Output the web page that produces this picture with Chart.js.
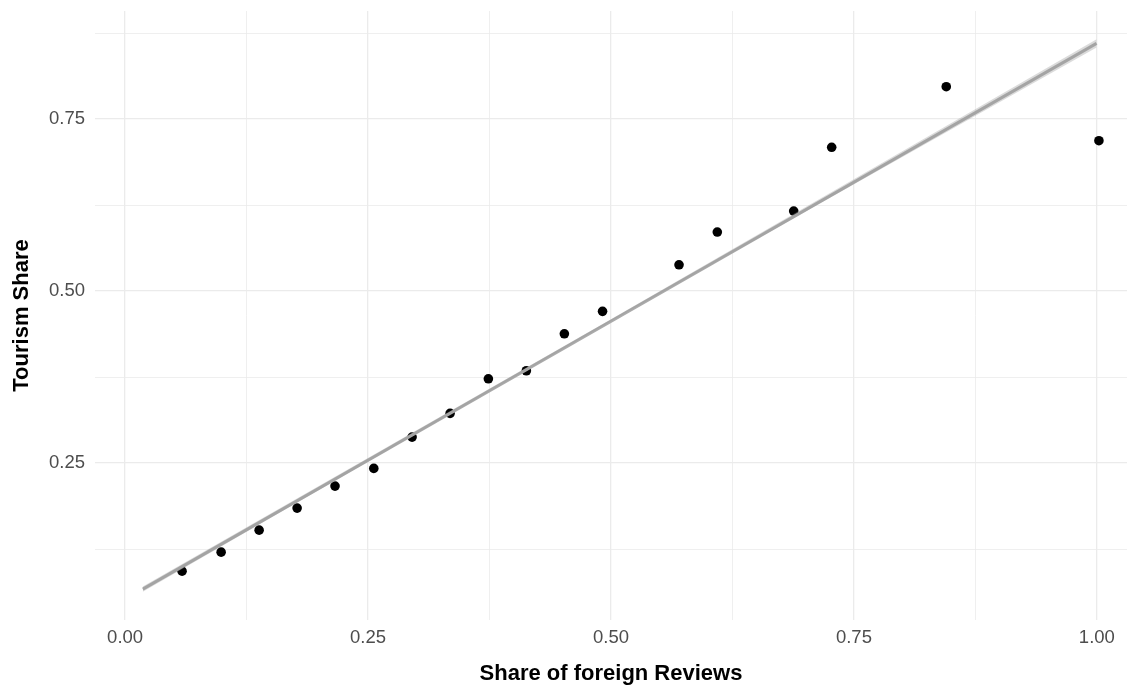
<!DOCTYPE html>
<html lang="en">
<head>
    <meta charset="UTF-8">
    <title>Tourism Share vs Share of foreign Reviews</title>
    <script src="https://cdn.jsdelivr.net/npm/chart.js"></script>
    <style>
        html, body { margin: 0; padding: 0; background: #fff; overflow: hidden; }
        #wrap { width: 1138px; height: 687px; }
    </style>
</head>
<body>
    <div id="wrap"><canvas id="scatterChart" width="1138" height="687"></canvas></div>

    <script>
        // data
        const foreignShare = [0.0586, 0.0988, 0.1379, 0.1770, 0.2160, 0.2559, 0.2953, 0.3344, 0.3738,
                              0.4129, 0.4520, 0.4913, 0.5700, 0.6094, 0.6880, 0.7271, 0.8450, 1.0021];
        const tourismShare = [0.0930, 0.1206, 0.1526, 0.1846, 0.2166, 0.2423, 0.2878, 0.3222, 0.3725,
                              0.3842, 0.4379, 0.4705, 0.5382, 0.5858, 0.6163, 0.7089, 0.7970, 0.7185];

        // fitted line + its (thin) confidence band
        const fitX = [0.0182, 0.9997];
        const fitY = [0.0669, 0.8600];
        const bandX = [0.0182, 0.5, 0.9997];
        const bandLower = [0.0630, 0.4560, 0.8540];
        const bandUpper = [0.0708, 0.4590, 0.8660];

        const xTicks = [0, 0.125, 0.25, 0.375, 0.5, 0.625, 0.75, 0.875, 1.0];
        const yTicks = [0.125, 0.25, 0.375, 0.5, 0.625, 0.75, 0.875];

        const FONT = '"Liberation Sans", Arial, Helvetica, sans-serif';
        const isMajor = v => Math.abs(v / 0.25 - Math.round(v / 0.25)) < 1e-6;

        const pts = (xs, ys) => xs.map((x, i) => ({ x: x, y: ys[i] }));

        const gridOpts = {
            color: '#EBEBEB',
            lineWidth: ctx => (ctx.tick && isMajor(ctx.tick.value)) ? 1.3 : 0.8,
            drawTicks: false
        };

        // no extra room for half-labels, the panel edges are set by layout padding
        function noPad(s) {
            s.paddingTop = 0; s.paddingBottom = 0;
            s.paddingLeft = 0; s.paddingRight = 0;
        }

        const ctx = document.getElementById('scatterChart').getContext('2d');
        const chart = new Chart(ctx, {
            type: 'scatter',
            data: {
                datasets: [{
                    label: 'lower',
                    data: pts(bandX, bandLower),
                    showLine: true,
                    borderWidth: 0,
                    pointRadius: 0,
                    fill: false
                }, {
                    label: 'upper',
                    data: pts(bandX, bandUpper),
                    showLine: true,
                    borderWidth: 0,
                    pointRadius: 0,
                    backgroundColor: 'rgba(153,153,153,0.35)',
                    fill: '-1'
                }, {
                    label: 'fit',
                    data: pts(fitX, fitY),
                    showLine: true,
                    borderColor: '#ABABAB',
                    borderWidth: 3,
                    pointRadius: 0
                }, {
                    label: 'points',
                    data: pts(foreignShare, tourismShare),
                    backgroundColor: '#000',
                    borderWidth: 0,
                    pointRadius: 4.8
                }]
            },
            options: {
                responsive: false,
                animation: false,
                layout: { padding: { top: 11, right: 11, left: 0, bottom: 0 } },
                plugins: {
                    legend: { display: false },
                    tooltip: { enabled: false }
                },
                scales: {
                    x: {
                        type: 'linear',
                        min: -0.031,
                        max: 1.031,
                        afterBuildTicks: s => { s.ticks = xTicks.map(v => ({ value: v })); },
                        afterFit: s => { s.height = 67; noPad(s); },
                        grid: gridOpts,
                        border: { display: false },
                        ticks: {
                            autoSkip: false,
                            maxRotation: 0,
                            padding: 7,
                            color: '#4D4D4D',
                            font: { family: FONT, size: 18.5 },
                            callback: v => isMajor(v) ? v.toFixed(2) : ''
                        },
                        title: {
                            display: true,
                            text: 'Share of foreign Reviews',
                            color: '#000',
                            font: { family: FONT, size: 22, weight: 'bold' },
                            padding: { top: 0, bottom: 0 }
                        }
                    },
                    y: {
                        type: 'linear',
                        min: 0.022,
                        max: 0.907,
                        afterBuildTicks: s => { s.ticks = yTicks.map(v => ({ value: v })); },
                        afterFit: s => { s.width = 95; noPad(s); },
                        grid: gridOpts,
                        border: { display: false },
                        ticks: {
                            autoSkip: false,
                            padding: 10,
                            color: '#4D4D4D',
                            font: { family: FONT, size: 18.5 },
                            callback: v => isMajor(v) ? v.toFixed(2) : ''
                        },
                        title: {
                            display: true,
                            text: 'Tourism Share',
                            color: '#000',
                            font: { family: FONT, size: 22, weight: 'bold' },
                            padding: { top: 9, bottom: 0 }
                        }
                    }
                }
            }
        });
    </script>
</body>
</html>
